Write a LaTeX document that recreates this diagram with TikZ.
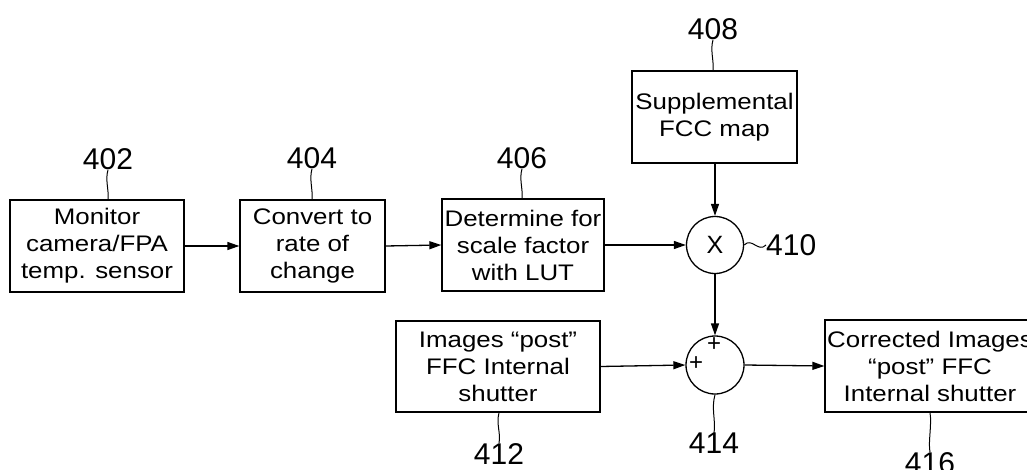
\documentclass[tikz,border=0pt]{standalone}
\usepackage{fontspec}
\setmainfont{Liberation Sans}
\newfontfamily\boxfont[FakeStretch=1.15]{Liberation Sans}
\usetikzlibrary{arrows.meta}
\begin{document}
\begin{tikzpicture}[x=1pt,y=-1pt,
  blk/.style={draw, line width=1.3pt, inner sep=0pt, align=center,
    font={\boxfont\fontsize{22.5}{27}\selectfont}},
  sumc/.style={draw, circle, line width=1.3pt, inner sep=0pt, minimum size=57pt},
  lbl/.style={inner sep=0pt, font={\fontsize{30}{30}\selectfont}},
  sgn/.style={inner sep=0pt, font={\fontsize{24}{24}\selectfont}},
  flow/.style={line width=1.3pt, -{Triangle[length=12pt,width=8pt]}},
  lead/.style={line width=1pt}]
\fill[white] (0,0) rectangle (1027,470);
\clip (0,0) rectangle (1027,470);
% blocks
\node[blk, minimum width=174pt, minimum height=92pt] (b402) at (97,246) {Monitor\\camera/FPA\\temp. sensor};
\node[blk, minimum width=145pt, minimum height=92pt] (b404) at (312.5,246) {Convert to\\rate of\\change};
\node[blk, minimum width=162pt, minimum height=92pt] (b406) at (523,245) {Determine for\\scale factor\\with LUT};
\node[blk, minimum width=165pt, minimum height=92pt] (b408) at (714.5,117) {Supplemental\\FCC map};
\node[sumc] (c410) at (715,245) {};
\node[inner sep=0pt, font={\fontsize{25}{25}\selectfont}] (x410) at (715,245) {X};
\node[blk, minimum width=204pt, minimum height=91pt] (b412) at (498,366.5) {Images “post”\\FFC Internal\\shutter};
\node[sumc, minimum size=58pt] (c414) at (715,365) {};
\node[sgn] (p1) at (714,345) {+};
\node[sgn] (p2) at (696,364) {+};
\node[blk, minimum width=210pt, minimum height=92pt] (b416) at (930,366) {Corrected Images\\“post” FFC\\Internal shutter};
% labels
\node[lbl, anchor=south] (l402) at (108,170) {402};
\node[lbl, anchor=south] (l404) at (312,169) {404};
\node[lbl, anchor=south] (l406) at (522,169) {406};
\node[lbl, anchor=south] (l408) at (713,40) {408};
\node[lbl, anchor=west] (l410) at (766,245) {410};
\node[lbl, anchor=north] (l412) at (499,443) {412};
\node[lbl, anchor=north] (l414) at (714,433) {414};
\node[lbl, anchor=north] (l416) at (930,452) {416};
% leaders
\draw[lead] (l402.south) .. controls +(-3,10) and +(1,-10) .. (b402.north -| l402.south);
\draw[lead] (l404.south) .. controls +(-3,10) and +(1,-10) .. (b404.north -| l404.south);
\draw[lead] (l406.south) .. controls +(-3,10) and +(1,-10) .. (b406.north -| l406.south);
\draw[lead] (l408.south) .. controls +(-3,10) and +(1,-10) .. (b408.north -| l408.south);
\draw[lead] (c410.east) .. controls +(8,-8) and +(-8,8) .. (l410.west);
\draw[lead] (c414.south) .. controls +(-4,14) and +(2,-12) .. (l414.north);
\draw[lead] (b412.south -| l412.north) .. controls +(-3,12) and +(2,-10) .. (l412.north);
\draw[lead] (b416.south -| l416.north) .. controls +(2,12) and +(-2,-10) .. (l416.north);
% flow
\draw[flow] (b402.east) -- (b404.west);
\draw[flow] (b404.east) -- (b406.west);
\draw[flow] (b406.east) -- (c410.west);
\draw[flow] (b408.south -| c410.north) -- (c410.north);
\draw[flow] (c410.south) -- (c414.north);
\draw[flow] (b412.east) -- (c414.west);
\draw[flow] (c414.east) -- (b416.west);
\end{tikzpicture}
\end{document}
